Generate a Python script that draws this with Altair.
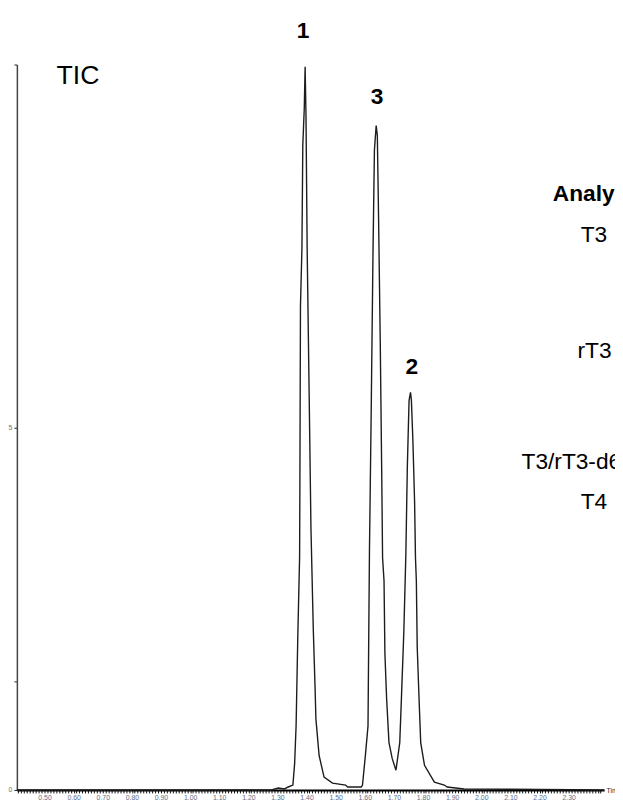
import altair as alt
import pandas as pd

# ---- chromatogram trace (retention time, relative intensity %) ----
time = [0.405, 1.280, 1.303, 1.324, 1.337, 1.353, 1.359, 1.364, 1.370, 1.376,
        1.377, 1.379, 1.384, 1.387, 1.392, 1.395, 1.398, 1.402, 1.409, 1.415,
        1.423, 1.429, 1.432, 1.443, 1.460, 1.489, 1.534, 1.541, 1.588, 1.592,
        1.602, 1.611, 1.613, 1.616, 1.622, 1.628, 1.633, 1.639, 1.643, 1.647,
        1.653, 1.658, 1.661, 1.666, 1.669, 1.675, 1.683, 1.694, 1.707, 1.720,
        1.726, 1.734, 1.741, 1.746, 1.752, 1.757, 1.760, 1.765, 1.771, 1.774,
        1.777, 1.780, 1.786, 1.792, 1.805, 1.839, 1.873, 1.883, 1.941, 2.422]
intensity = [0.0, 0.0, 0.27, 0.14, 0.41, 0.68, 3.67, 8.84, 21.5, 32.0,
             41.9, 66.7, 74.6, 88.8, 93.9, 99.7, 92.9, 74.6, 54.1, 36.1,
             22.2, 14.3, 9.8, 4.76, 1.77, 0.95, 0.68, 0.41, 0.41, 0.68,
             4.76, 8.84, 18.8, 33.1, 52.4, 73.7, 88.2, 91.6, 90.2, 79.6,
             61.9, 43.9, 32.0, 28.8, 18.8, 12.5, 6.53, 4.35, 2.72, 6.53,
             12.9, 21.8, 32.5, 44.5, 53.7, 54.8, 53.7, 48.3, 39.7, 32.0,
             28.8, 19.7, 12.9, 6.53, 3.40, 1.09, 0.68, 0.41, 0.14, 0.0]

# ---- peak numbers ----
peak_labels = ["1", "3", "2"]
peak_t = [1.388, 1.642, 1.761]
peak_i = [103.7, 94.6, 57.3]

# ---- side table text ----
side_labels = ["Analy", "T3", "rT3", "T3/rT3-d6", "T4"]
side_t = [2.2458, 2.3417, 2.3305, 2.1383, 2.3417]
side_i = [81.2, 75.5, 59.5, 44.2, 38.7]
side_bold = ["bold", "normal", "normal", "normal", "normal"]

# ---- corner title ----
tic_label = ["TIC"]
tic_t = [0.541]
tic_i = [97.3]

# ---- axis ticks ----
x_ticks = [round(0.41 + 0.01 * k, 2) for k in range(201)]
y_ticks = [0, 15, 50, 100]

FONT = "Liberation Sans"

trace = pd.DataFrame({"t": time, "I": intensity})
peaks = pd.DataFrame({"t": peak_t, "I": peak_i, "label": peak_labels})
side = pd.DataFrame({"t": side_t, "I": side_i, "label": side_labels, "w": side_bold})
tic = pd.DataFrame({"t": tic_t, "I": tic_i, "label": tic_label})

x_scale = alt.Scale(domain=[0.405, 2.422], nice=False, zero=False)
y_scale = alt.Scale(domain=[0, 100], nice=False, zero=True)

x_axis = alt.Axis(
    values=x_ticks,
    format=".2f",
    labelExpr="(abs(datum.value*10 - round(datum.value*10)) < 0.001 && datum.value >= 0.49 && datum.value <= 2.31) ? datum.label : ''",
    labelOverlap=False,
    labelFlush=False,
    labelFontSize=7,
    labelColor="#5f6f8c",
    labelFont=FONT,
    labelPadding=1,
    tickSize=3,
    tickColor="#111",
    tickWidth=1,
    domainColor="#000",
    domainWidth=2,
    grid=False,
    title="Time",
    titleX=597,
    titleY=1,
    titleAlign="left",
    titleBaseline="middle",
    titleAnchor="start",
    titleFontSize=7,
    titleFontWeight="normal",
    titleColor="#333",
    titleFont=FONT,
)

y_axis = alt.Axis(
    values=y_ticks,
    labelExpr="datum.value == 0 ? '0' : (datum.value == 50 ? '5' : '')",
    labelOverlap=False,
    labelFontSize=7,
    labelColor="#7a6f60",
    labelFont=FONT,
    labelPadding=2,
    tickSize=3,
    tickColor="#222",
    domainColor="#444",
    domainWidth=1.5,
    grid=False,
    title=None,
)

X = alt.X("t:Q", scale=x_scale, axis=x_axis)
Y = alt.Y("I:Q", scale=y_scale, axis=y_axis)

line = alt.Chart(trace).mark_line(color="#1c1c1c", strokeWidth=1.4, clip=False).encode(
    x=X, y=Y,
)

peak_text = alt.Chart(peaks).mark_text(
    font=FONT, fontSize=23, fontWeight="bold", color="#000",
    align="center", baseline="alphabetic",
).encode(x=X, y=Y, text="label:N")

side_bold_text = alt.Chart(side[side["w"] == "bold"]).mark_text(
    font=FONT, fontSize=23, fontWeight="bold", color="#000",
    align="left", baseline="alphabetic",
).encode(x=X, y=Y, text="label:N")

side_text = alt.Chart(side[side["w"] == "normal"]).mark_text(
    font=FONT, fontSize=23, fontWeight="normal", color="#000",
    align="left", baseline="alphabetic",
).encode(x=X, y=Y, text="label:N")

tic_text = alt.Chart(tic).mark_text(
    font=FONT, fontSize=27, fontWeight="normal", color="#000",
    align="left", baseline="alphabetic",
).encode(x=X, y=Y, text="label:N")

chart = alt.layer(line, peak_text, side_bold_text, side_text, tic_text).properties(
    width=595,
    height=735,
    autosize=alt.AutoSizeParams(type="none"),
    padding={"left": 9, "top": 52, "right": 11, "bottom": 14},
    background="white",
).configure_view(stroke=None)

chart.save("out.html", embed_options={"renderer": "svg", "actions": False})
